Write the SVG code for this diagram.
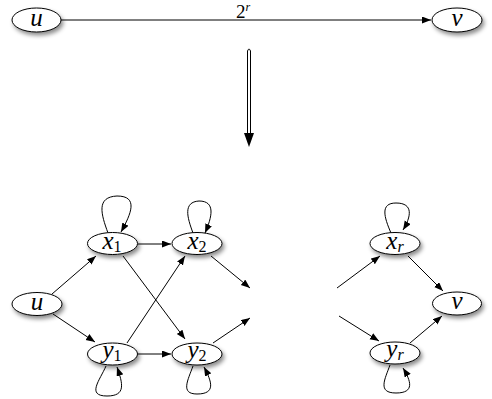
<svg xmlns="http://www.w3.org/2000/svg" width="492" height="399" viewBox="0 0 492 399">
<defs>
<filter id="sh" x="-30%" y="-40%" width="170%" height="200%">
<feDropShadow dx="2" dy="3" stdDeviation="2" flood-color="#000" flood-opacity="0.45"/>
</filter>
<marker id="ah" markerUnits="userSpaceOnUse" markerWidth="10" markerHeight="8" refX="9" refY="3.5" orient="auto">
<path d="M0,0 L9,3.5 L0,7 z" fill="#000"/>
</marker>
</defs>
<style>
.n ellipse{fill:#fff;stroke:#000;stroke-width:1;filter:url(#sh)}
.n text{font-family:"Liberation Serif","DejaVu Serif",serif;font-size:25px;text-anchor:middle;fill:#000}
.i{font-style:italic}
.n text .s{font-size:16px}
.e path,.e line{fill:none;stroke:#000;stroke-width:1}
.a{marker-end:url(#ah)}
.lbl{font-family:"Liberation Serif","DejaVu Serif",serif;font-size:19px;text-anchor:middle}
</style>
<g id="edges" class="e">
<line class="a" x1="61" y1="20" x2="431" y2="20"/>
<path d="M247.5,134 V51 Q249,47 250.5,51 V134"/>
<path d="M244,133 L254,133 L249,147 z" style="fill:#000;stroke:none"/>
<line class="a" x1="52" y1="294" x2="96" y2="256"/>
<line class="a" x1="53" y1="314" x2="95" y2="342"/>
<line class="a" x1="138" y1="244" x2="171" y2="244"/>
<line class="a" x1="123" y1="256" x2="185" y2="339"/>
<line class="a" x1="127" y1="343" x2="185" y2="256"/>
<line class="a" x1="138" y1="354" x2="171" y2="354"/>
<line class="a" x1="211" y1="256" x2="250" y2="288"/>
<line class="a" x1="213" y1="343" x2="250" y2="318"/>
<line class="a" x1="337" y1="288" x2="380" y2="256"/>
<line class="a" x1="339" y1="316" x2="379" y2="341"/>
<line class="a" x1="408" y1="256" x2="443" y2="291"/>
<line class="a" x1="410" y1="343" x2="442" y2="316"/>
<path class="a" d="M108,233 C101,214 96,197 117,196 C139,196 131,214 121,232"/>
<path class="a" d="M193,233 C187,217 183,202 199,201 C216,201 212,217 205,233"/>
<path class="a" d="M391,233 C384,217 380,203 396,203 C414,203 411,217 403,230"/>
<path class="a" d="M106,366 C100,380 86,396 107,396 C126,396 123,384 117,367"/>
<path class="a" d="M193,366 C188,380 180,394 197,394 C216,394 212,382 204,367"/>
<path class="a" d="M390,365 C385,379 377,393 396,393 C415,393 411,381 403,368"/>
</g>
<text class="lbl" x="243" y="18">2<tspan class="i" font-size="12" dy="-7">r</tspan></text>
<g id="u_top" class="n"><ellipse cx="36.5" cy="20" rx="24.5" ry="12"/><text x="36.5" y="26" class="i">u</text></g>
<g id="v_top" class="n"><ellipse cx="457" cy="20" rx="25" ry="12"/><text x="457" y="26" class="i">v</text></g>
<g id="u" class="n"><ellipse cx="37" cy="304" rx="25" ry="11.5"/><text x="37" y="310" class="i">u</text></g>
<g id="x1" class="n"><ellipse cx="112.5" cy="243.5" rx="25" ry="11"/><text x="112" y="249"><tspan class="i">x</tspan><tspan class="s" dy="3">1</tspan></text></g>
<g id="x2" class="n"><ellipse cx="197" cy="243.5" rx="25" ry="11"/><text x="197" y="249"><tspan class="i">x</tspan><tspan class="s" dy="3">2</tspan></text></g>
<g id="y1" class="n"><ellipse cx="112.5" cy="354" rx="25" ry="11"/><text x="112" y="358"><tspan class="i">y</tspan><tspan class="s" dy="3">1</tspan></text></g>
<g id="y2" class="n"><ellipse cx="197" cy="354" rx="25" ry="11"/><text x="197" y="358"><tspan class="i">y</tspan><tspan class="s" dy="3">2</tspan></text></g>
<g id="xr" class="n"><ellipse cx="395" cy="243.5" rx="25" ry="11"/><text x="395" y="249"><tspan class="i">x</tspan><tspan class="s i" dy="3">r</tspan></text></g>
<g id="yr" class="n"><ellipse cx="395" cy="353" rx="25" ry="11"/><text x="395" y="357"><tspan class="i">y</tspan><tspan class="s i" dy="3">r</tspan></text></g>
<g id="v" class="n"><ellipse cx="457" cy="303.5" rx="24.5" ry="11.5"/><text x="457" y="309" class="i">v</text></g>
</svg>
